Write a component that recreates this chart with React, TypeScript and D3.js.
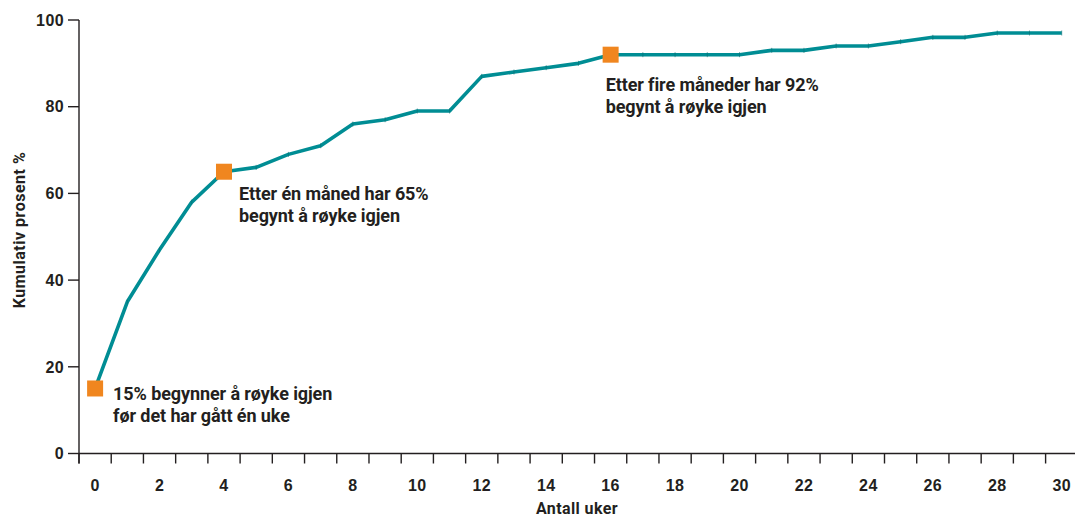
import React from "react";
import * as d3 from "d3";

const weeks: number[] = Array.from({ length: 31 }, (_, i) => i);
const cumulative: number[] = [15, 35, 47, 58, 65, 66, 69, 71, 76, 77, 79, 79, 87, 88, 89, 90, 92, 92, 92, 92, 92, 93, 93, 94, 94, 95, 96, 96, 97, 97, 97];
const yTicks: number[] = [0, 20, 40, 60, 80, 100];
const xLabelWeeks: number[] = [0, 2, 4, 6, 8, 10, 12, 14, 16, 18, 20, 22, 24, 26, 28, 30];
const highlightWeeks: number[] = [0, 4, 16];
const annotations: { week: number; lines: string[] }[] = [
  { week: 0, lines: ["15% begynner å røyke igjen", "før det har gått én uke"] },
  { week: 4, lines: ["Etter én måned har 65%", "begynt å røyke igjen"] },
  { week: 16, lines: ["Etter fire måneder har 92%", "begynt å røyke igjen"] },
];
const annotationOffsets = [
  { dx: 18, dy: 12 },
  { dx: 15, dy: 28 },
  { dx: -5, dy: 36 },
];

const W = 1075;
const H = 517;
const left = 79;
const bandW = 32.22;
const top = 20;
const bottom = 453.5;

const x = d3.scaleBand<number>().domain(weeks).range([left, left + bandW * weeks.length]).padding(0);
const y = d3.scaleLinear().domain([0, 100]).range([bottom, top]);
const xc = (w: number) => (x(w) as number) + x.bandwidth() / 2;

const textColor = "#231f20";
const lineColor = "#008d94";
const markerColor = "#f0861f";
const condensed = "Roboto, 'Liberation Sans', sans-serif";
const regular = "'Liberation Sans', Arial, sans-serif";

export default function App() {
  const line = d3
    .line<number>()
    .x((_, i) => xc(weeks[i]))
    .y((d) => y(d));
  const path = line(cumulative) || "";
  const boundaries = weeks.map((w) => x(w) as number).concat([left + bandW * weeks.length]);
  return (
    <svg
      width={W}
      height={H}
      style={{ position: "absolute", left: 0, top: 0, background: "#fff" }}
    >
      {/* axes */}
      <line x1={left} x2={left} y1={top} y2={bottom + 10} stroke={textColor} strokeWidth={1.4} />
      <line x1={left} x2={W + 5} y1={bottom} y2={bottom} stroke={textColor} strokeWidth={1.4} />
      {yTicks.map((t) => (
        <g key={"y" + t}>
          <line x1={left - 11} x2={left} y1={y(t)} y2={y(t)} stroke={textColor} strokeWidth={1.4} />
          <text
            x={left - 15}
            y={y(t)}
            dy="0.36em"
            textAnchor="end"
            fontFamily={regular}
            fontWeight="bold"
            fontSize={16}
            letterSpacing={0.4}
            fill={textColor}
          >
            {t}
          </text>
        </g>
      ))}
      {boundaries.map((b, i) => (
        <line key={"xt" + i} x1={b} x2={b} y1={bottom} y2={bottom + 10} stroke={textColor} strokeWidth={1.4} />
      ))}
      {xLabelWeeks.map((w) => (
        <text
          key={"xl" + w}
          x={xc(w)}
          y={491}
          textAnchor="middle"
          fontFamily={regular}
          fontWeight="bold"
          fontSize={16}
          letterSpacing={0.4}
          fill={textColor}
        >
          {w}
        </text>
      ))}
      <text
        x={577}
        y={514}
        textAnchor="middle"
        fontFamily={condensed}
        fontWeight="bold"
        fontSize={16}
        letterSpacing={0.4}
        fill={textColor}
      >
        Antall uker
      </text>
      <text
        transform={`translate(25,230) rotate(-90)`}
        textAnchor="middle"
        fontFamily={condensed}
        fontWeight="bold"
        fontSize={16}
        letterSpacing={0.5}
        fill={textColor}
      >
        Kumulativ prosent %
      </text>

      {/* line */}
      <path d={path} fill="none" stroke={lineColor} strokeWidth={3.6} strokeLinejoin="round" />
      {weeks.map((w, i) => (
        <line
          key={"pm" + w}
          x1={xc(w)}
          x2={xc(w)}
          y1={y(cumulative[i]) - 2.5}
          y2={y(cumulative[i]) + 2.5}
          stroke="#0a6f74"
          strokeWidth={1}
          opacity={0.6}
        />
      ))}

      {/* markers */}
      {highlightWeeks.map((w) => (
        <rect
          key={"m" + w}
          x={xc(w) - 8}
          y={y(cumulative[w]) - 8}
          width={16}
          height={16}
          fill={markerColor}
        />
      ))}

      {/* annotations */}
      {annotations.map((a, k) => (
        <text
          key={"a" + k}
          fontFamily={condensed}
          fontWeight="bold"
          fontSize={18}
          letterSpacing={-0.1}
          fill={textColor}
        >
          {a.lines.map((l, j) => (
            <tspan
              key={j}
              x={xc(a.week) + annotationOffsets[k].dx}
              y={y(cumulative[a.week]) + annotationOffsets[k].dy + j * 22}
            >
              {l}
            </tspan>
          ))}
        </text>
      ))}
    </svg>
  );
}
